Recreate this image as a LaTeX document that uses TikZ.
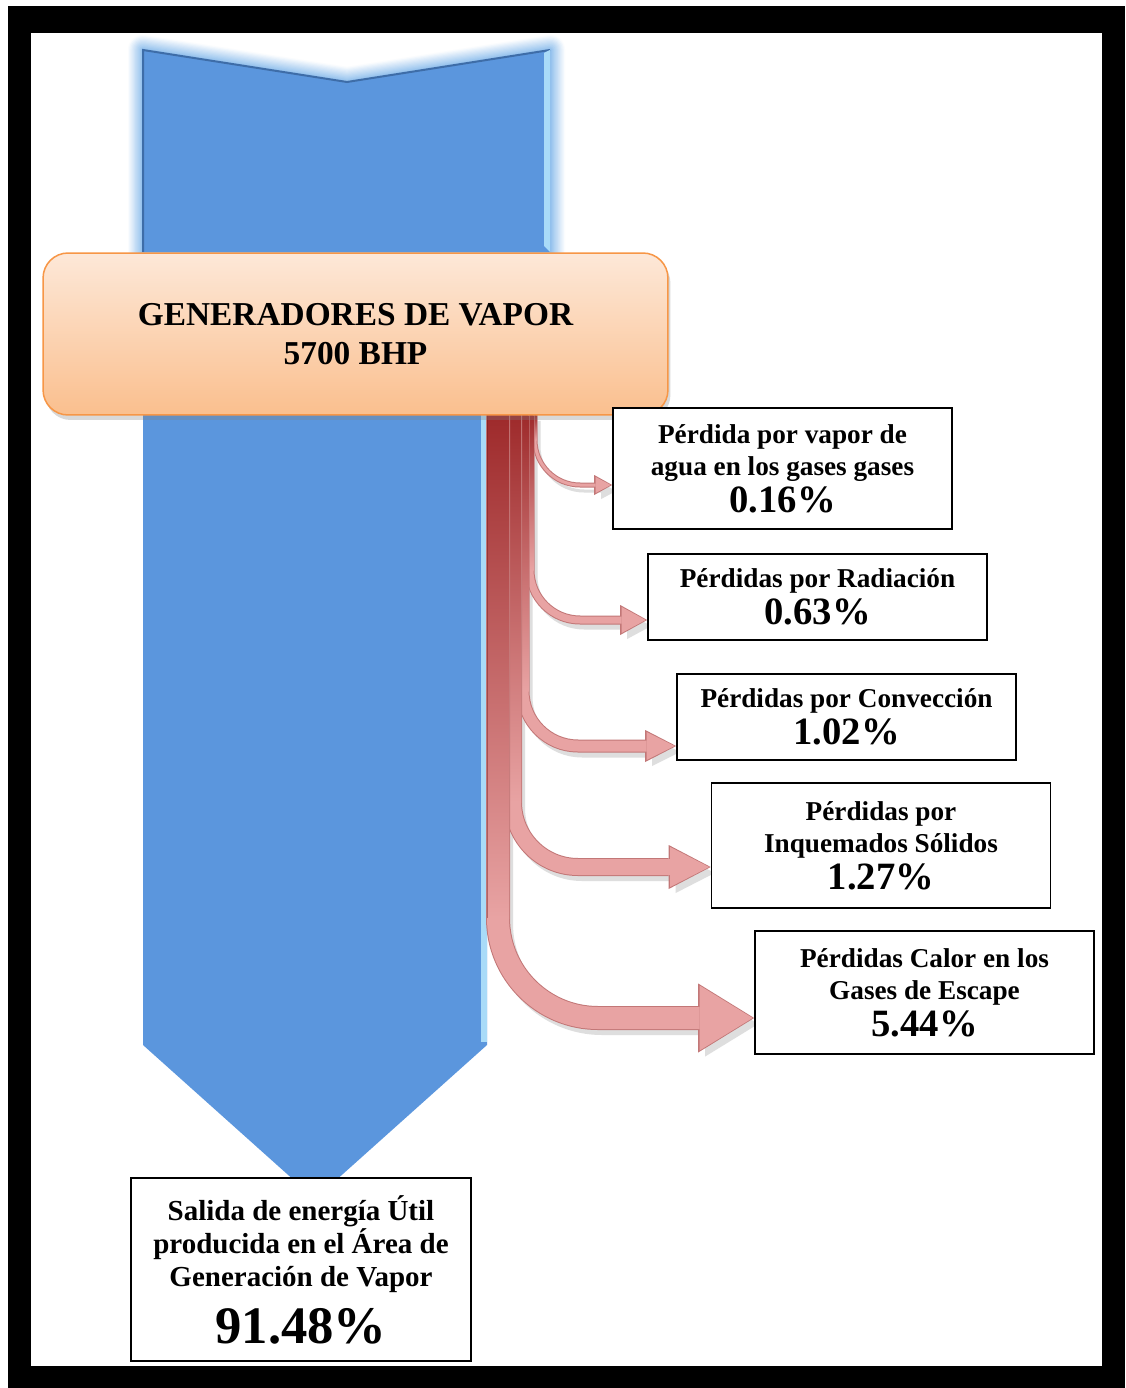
\documentclass[tikz,border=0pt]{standalone}
\usepackage{fontspec}
\setmainfont{Liberation Serif}
\usepackage{tikz}
\usetikzlibrary{calc,arrows.meta,shadows,backgrounds}
\definecolor{bluec}{HTML}{5B96DD}
\definecolor{blueedge}{HTML}{3E6DA8}
\definecolor{bluelite}{HTML}{A9DBF8}
\definecolor{glowc}{HTML}{7FB5EA}
\definecolor{orgedge}{HTML}{F79646}
\definecolor{orgtop}{HTML}{FDE8D8}
\definecolor{orgbot}{HTML}{FABF8E}
\definecolor{redtop}{HTML}{9E2A2B}
\definecolor{redmid}{HTML}{D23B3B}
\definecolor{pinkc}{HTML}{E8A3A3}
\definecolor{pinkedge}{HTML}{C27777}
\tikzset{
  genbox/.style={draw=orgedge,line width=0.03cm,rounded corners=0.5cm,top color=orgtop,bottom color=orgbot,
    minimum width=12.5cm,minimum height=3.24cm,align=center,
    drop shadow={shadow xshift=0.05cm,shadow yshift=-0.1cm,opacity=0.3},
    font=\fontsize{19}{22}\selectfont\bfseries},
  lossbox/.style={draw=black,line width=1pt,fill=white,align=center,inner sep=2pt,minimum width=6.78cm,
    font=\fontsize{15.5}{18.2}\selectfont\bfseries},
  outbox/.style={lossbox,minimum width=6.8cm,minimum height=3.66cm,font=\fontsize{16.5}{18.8}\selectfont\bfseries}
}
\newcommand{\pct}[1]{{\fontsize{22}{24}\selectfont #1}}

\begin{document}
\begin{tikzpicture}[x=0.02cm,y=-0.02cm]
\useasboundingbox (0,0) rectangle (1125,1388);
% main boxes
\node[genbox] (gen) at (355.5,334) {GENERADORES DE VAPOR\\5700 BHP};
\node[lossbox,minimum height=2.42cm] (b1) at (782.5,468.5) {Pérdida por vapor de\\agua en los gases gases\\[3pt]\pct{0.16\%}};
\node[lossbox,minimum height=1.72cm] (b2) at (817.5,597) {Pérdidas por Radiación\\[3pt]\pct{0.63\%}};
\node[lossbox,minimum height=1.72cm] (b3) at (846.5,717) {Pérdidas por Convección\\[3pt]\pct{1.02\%}};
\node[lossbox,minimum height=2.5cm] (b4) at (881,845.5) {Pérdidas por\\Inquemados Sólidos\\[3pt]\pct{1.27\%}};
\node[lossbox,minimum height=2.46cm] (b5) at (924.5,992.5) {Pérdidas Calor en los\\Gases de Escape\\[3pt]\pct{5.44\%}};
\node[outbox] (out) at (301,1269.5) {Salida de energía Útil\\producida en el Área de\\Generación de Vapor\\[8pt]{\fontsize{30}{32}\selectfont 91.48\%}};

\begin{scope}[on background layer]
% frame
\fill[white] (0,0) rectangle (1125,1388);
\fill[black] (8,6) rectangle (1125,1388);
\fill[white] (31,33) rectangle (1102,1366);
% blue input arrow, soft glow
\foreach \k [evaluate=\k as \c using int(4+7*\k)] in {0,...,11}
  \draw[line width={(30-2.4*\k)*0.02cm},glowc!\c!white,line join=round] (143,50) -- (347,82) -- (550,50) -- (550,252) -- (143,252) -- cycle;
\fill[bluec] (143,50) -- (347,82) -- (550,50) -- (550,252) -- (143,252) -- cycle;
\draw[blueedge,line width=0.04cm] (143,252) -- (143,50) -- (347,82) -- (550,50);
\fill[bluelite] (544,53) -- (550,50) -- (550,252) -- (544,246) -- cycle;
\fill[bluec] (143,415) -- (487,415) -- (487,1045) -- (315,1199) -- (143,1045) -- cycle;
\fill[bluelite] (481,415) rectangle (487,1042);
% loss arrows
\foreach \i/\x/\w/\r/\arm/\hl/\hw [evaluate=\hl as \hla using \hl*0.02, evaluate=\hw as \hwa using \hw*0.02]
  in {1/535/3/45/485/15/16, 2/530/7/50/620/24/26, 3/523/11/55/746/28/28, 4/513/16/65/867/39/40, 5/498/22/100/1018/53/65}
  \draw[transform canvas={xshift=0.08cm,yshift=-0.12cm},black!13,line width=\w*0.02cm,rounded corners=\r*0.02cm,
    -{Triangle[length=\hla cm,width=\hwa cm,line width=0pt]}] (\x,415) |- (b\i.west |- 0,\arm);
\foreach \i/\x/\w/\r/\arm/\hl/\hw [evaluate=\hl as \hla using \hl*0.02, evaluate=\hw as \hwa using \hw*0.02,
    evaluate=\hl as \hlb using (\hl+3)*0.02, evaluate=\hw as \hwb using (\hw+4)*0.02]
  in {1/535/3/45/485/15/16, 2/530/7/50/620/24/26, 3/523/11/55/746/28/28, 4/513/16/65/867/39/40, 5/498/22/100/1018/53/65}
{
  \coordinate (s\i) at (\x,415);
  \draw[pinkedge,line width=(\w+2)*0.02cm,rounded corners=\r*0.02cm,
    -{Triangle[length=\hlb cm,width=\hwb cm,line width=0pt]}] (s\i) |- (b\i.west |- 0,\arm);
  \draw[pinkc,line width=\w*0.02cm,rounded corners=\r*0.02cm,
    -{Triangle[length=\hla cm,width=\hwa cm,line width=0pt]}] (s\i) |- ([xshift=-0.03cm]b\i.west |- 0,\arm);
  \shade[top color=redtop,middle color=redmid,bottom color=pinkc] ({\x-\w/2},415) rectangle ({\x+\w/2},{\arm-\r});
  \draw[redtop!70!black,opacity=0.45,line width=0.02cm] ({\x-\w/2},415) -- ({\x-\w/2},{\arm-\r});
}
\end{scope}
\end{tikzpicture}
\end{document}
